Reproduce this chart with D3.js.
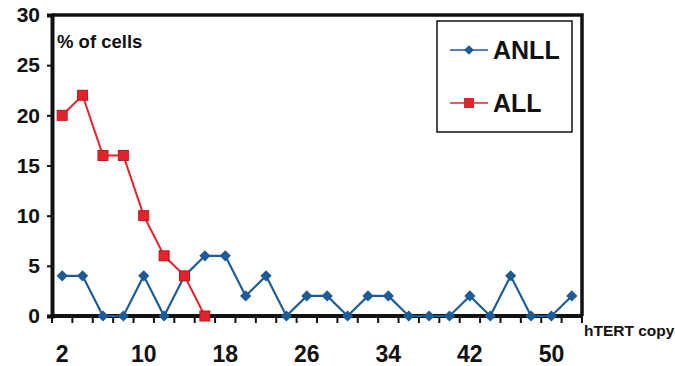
<!DOCTYPE html>
<html>
<head>
<meta charset="utf-8">
<script src="https://cdn.jsdelivr.net/npm/d3@7"></script>
<style>
  body { margin: 0; background: #fff; }
  text { font-family: "Liberation Sans", Arial, sans-serif; font-weight: bold; fill: #111; }
</style>
</head>
<body>
<svg class="chart"></svg>
<script>
const copies = [2, 4, 6, 8, 10, 12, 14, 16, 18, 20, 22, 24, 26, 28, 30, 32, 34, 36, 38, 40, 42, 44, 46, 48, 50, 52];
const anll = [4, 4, 0, 0, 4, 0, 4, 6, 6, 2, 4, 0, 2, 2, 0, 2, 2, 0, 0, 0, 2, 0, 4, 0, 0, 2];
const all = [20, 22, 16, 16, 10, 6, 4, 0];
const xLabels = [2, 10, 18, 26, 34, 42, 50];
const yTicks = [0, 5, 10, 15, 20, 25, 30];

const BLUE = '#1d5b97';
const RED = '#e3222b';

const MARGIN = { top: 15, right: 93, bottom: 50, left: 52 };
const WIDTH = 675 - MARGIN.left - MARGIN.right;
const HEIGHT = 366 - MARGIN.top - MARGIN.bottom;

const svg = d3.select('svg.chart')
  .attr('width', 675)
  .attr('height', 366);

const chart = svg.append('g')
  .attr('transform', `translate(${MARGIN.left},${MARGIN.top})`);

const x = d3.scaleBand()
  .domain(copies)
  .range([0, WIDTH]);

const y = d3.scaleLinear()
  .domain([0, 30])
  .range([HEIGHT, 0]);

const cx = d => x(d) + x.bandwidth() / 2;

// frame (top + right)
chart.append('path')
  .attr('d', `M0,0H${WIDTH}V${HEIGHT}`)
  .attr('fill', 'none')
  .attr('stroke', '#111')
  .attr('stroke-width', 3.5);

// y axis
const yAxis = chart.append('g')
  .call(d3.axisLeft(y).tickValues(yTicks).tickSize(5).tickPadding(7));
yAxis.select('.domain').attr('stroke-width', 4).attr('stroke', '#111');
yAxis.selectAll('.tick line').attr('stroke-width', 2).attr('stroke', '#111');
yAxis.selectAll('.tick text').style('font-size', '21px');

// x axis: ticks at band boundaries, labels on selected categories
const xAxisG = chart.append('g')
  .attr('transform', `translate(0,${HEIGHT})`);
xAxisG.append('line')
  .attr('x1', 0).attr('x2', WIDTH)
  .attr('stroke', '#111')
  .attr('stroke-width', 4);
const bounds = copies.map(c => x(c)).concat([WIDTH]);
xAxisG.selectAll('line.tick')
  .data(bounds)
  .enter()
.append('line')
  .attr('class', 'tick')
  .attr('x1', d => d).attr('x2', d => d)
  .attr('y1', 0).attr('y2', 7)
  .attr('stroke', '#111')
  .attr('stroke-width', 2);
xAxisG.selectAll('text.lab')
  .data(xLabels)
  .enter()
.append('text')
  .attr('class', 'lab')
  .attr('x', d => cx(d))
  .attr('y', 46)
  .attr('text-anchor', 'middle')
  .style('font-size', '23px')
  .text(d => d);

chart.append('text')
  .attr('x', WIDTH + 2)
  .attr('y', HEIGHT + 20)
  .style('font-size', '15.5px')
  .text('hTERT copy');

chart.append('text')
  .attr('x', 5)
  .attr('y', 33)
  .style('font-size', '18.5px')
  .text('% of cells');

const line = d3.line()
  .x(d => cx(d.c))
  .y(d => y(d.v));

const anllData = copies.map((c, i) => ({ c, v: anll[i] }));
const allData = all.map((v, i) => ({ c: copies[i], v }));

chart.append('path')
  .datum(anllData)
  .attr('d', line)
  .attr('fill', 'none')
  .attr('stroke', BLUE)
  .attr('stroke-width', 2.2);

chart.append('path')
  .datum(allData)
  .attr('d', line)
  .attr('fill', 'none')
  .attr('stroke', RED)
  .attr('stroke-width', 2);

const diamond = d3.symbol().type(d3.symbolDiamond2).size(80);
chart.selectAll('.pt-anll')
  .data(anllData)
  .enter()
.append('path')
  .attr('class', 'pt-anll')
  .attr('d', diamond)
  .attr('transform', d => `translate(${cx(d.c)},${y(d.v)})`)
  .attr('fill', BLUE);

chart.selectAll('.pt-all')
  .data(allData)
  .enter()
.append('rect')
  .attr('class', 'pt-all')
  .attr('x', d => cx(d.c) - 5)
  .attr('y', d => y(d.v) - 5)
  .attr('width', 10)
  .attr('height', 10)
  .attr('fill', RED)
  .attr('stroke', '#b81820')
  .attr('stroke-width', 1);

// legend
const legend = chart.append('g')
  .attr('transform', `translate(${437 - MARGIN.left},${21 - MARGIN.top})`);
legend.append('rect')
  .attr('width', 135)
  .attr('height', 111)
  .attr('fill', '#fff')
  .attr('stroke', '#111')
  .attr('stroke-width', 1.5);

const items = [
  { name: 'ANLL', color: BLUE, y: 29 },
  { name: 'ALL', color: RED, y: 82 },
];
items.forEach(it => {
  const g = legend.append('g').attr('transform', `translate(0,${it.y})`);
  g.append('line')
    .attr('x1', 13).attr('x2', 51)
    .attr('stroke', it.color)
    .attr('stroke-width', 1.6);
  if (it.name === 'ANLL') {
    g.append('path')
      .attr('d', d3.symbol().type(d3.symbolDiamond2).size(60))
      .attr('transform', 'translate(32,0)')
      .attr('fill', it.color);
  } else {
    g.append('rect')
      .attr('x', 27).attr('y', -5)
      .attr('width', 10).attr('height', 10)
      .attr('fill', it.color);
  }
  g.append('text')
    .attr('x', 56)
    .attr('y', 9)
    .style('font-size', '25px')
    .text(it.name);
});
</script>
</body>
</html>
